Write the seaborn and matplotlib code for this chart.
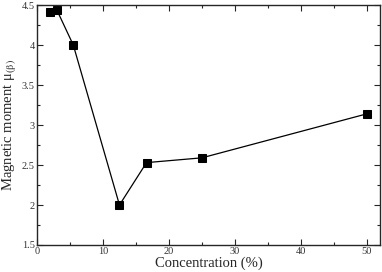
"""
Magnetic moment vs concentration
"""

import pandas as pd
import matplotlib
matplotlib.use('Agg')
import matplotlib.pyplot as plt
from matplotlib.ticker import MultipleLocator, FuncFormatter
import seaborn as sns

# values
concentration = [1.9, 3.0, 5.5, 12.5, 16.6, 25.0, 50.0]
moment = [4.41, 4.44, 4.00, 2.00, 2.53, 2.59, 3.14]

df = pd.DataFrame({'concentration': concentration, 'moment': moment})

sns.set_style('ticks')
plt.rcParams['font.family'] = ['Liberation Serif', 'DejaVu Serif']
plt.rcParams['mathtext.fontset'] = 'stix'

fig = plt.figure(figsize=(3.82, 2.72), dpi=100)
ax = fig.add_axes([0.0969, 0.0993, 0.898, 0.882])

sns.lineplot(x='concentration', y='moment', data=df, ax=ax, color='black',
             linewidth=0.9, marker='s', markersize=5.5, markeredgecolor='black',
             sort=False)

ax.set_xlim(0, 52)
ax.set_ylim(1.5, 4.5)
ax.xaxis.set_major_locator(MultipleLocator(10))
ax.xaxis.set_minor_locator(MultipleLocator(5))
ax.yaxis.set_major_locator(MultipleLocator(0.5))
ax.yaxis.set_minor_locator(MultipleLocator(0.25))
ax.yaxis.set_major_formatter(FuncFormatter(lambda v, p: '%g' % v))

ax.tick_params(which='both', direction='in', top=True, right=True,
               labelsize=7.5, width=0.8, pad=1.5, labelcolor='#333333')
ax.tick_params(which='major', length=4)
ax.tick_params(which='minor', length=2)
for s in ax.spines.values():
    s.set_linewidth(1.0)

ax.set_xlabel('Concentration (%)', fontsize=10.5, labelpad=0)
ax.set_ylabel(r'Magnetic moment μ$_{\mathrm{(β)}}$', fontsize=10.5, labelpad=2)

plt.savefig('out.png', dpi=100)
